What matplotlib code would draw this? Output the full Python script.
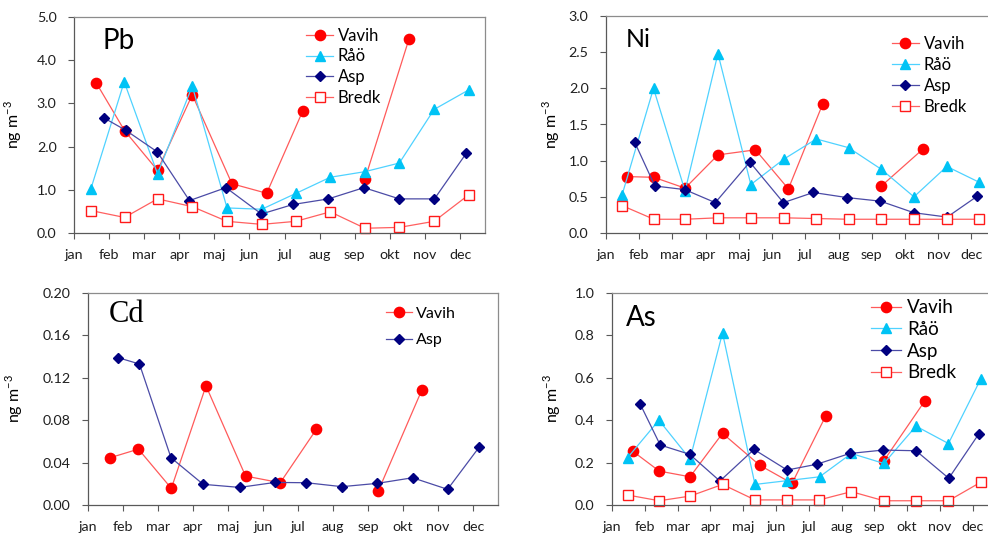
import numpy as np
import matplotlib
matplotlib.use("Agg")
import matplotlib.pyplot as plt

plt.rcParams['font.family'] = ['Lato', 'DejaVu Sans']

# month labels on the time axis (tick at the first day of every month)
months = ["jan", "feb", "mar", "apr", "maj", "jun", "jul", "aug", "sep", "okt", "nov", "dec"]

# sampling times per station, in months since 1 jan
x_vavih = [0.63, 1.44, 2.38, 3.37, 4.50, 5.49, 6.52, 7.40, 8.29, 9.54]
x_raao = [0.48, 1.43, 2.38, 3.37, 4.36, 5.35, 6.33, 7.30, 8.29, 9.27, 10.26, 11.24]
x_asp = [0.86, 1.47, 2.37, 3.29, 4.33, 5.34, 6.24, 7.25, 8.26, 9.27, 10.27, 11.18]
x_bredk = [0.48, 1.44, 2.38, 3.37, 4.36, 5.35, 6.32, 7.30, 8.29, 9.27, 10.26, 11.24]

# Pb (ng m-3)
pb_vavih = [3.48, 2.37, 1.45, 3.20, 1.14, 0.92, 2.83, np.nan, 1.25, 4.48]
pb_raao = [1.02, 3.50, 1.37, 3.40, 0.58, 0.55, 0.92, 1.29, 1.42, 1.62, 2.86, 3.31]
pb_asp = [2.66, 2.38, 1.88, 0.75, 1.05, 0.44, 0.66, 0.79, 1.05, 0.79, 0.79, 1.85]
pb_bredk = [0.52, 0.36, 0.79, 0.61, 0.27, 0.20, 0.27, 0.49, 0.11, 0.13, 0.27, 0.88]

# Ni (ng m-3)
ni_vavih = [0.78, 0.77, 0.62, 1.08, 1.15, 0.61, 1.78, np.nan, 0.65, 1.16]
ni_raao = [0.52, 2.00, 0.58, 2.48, 0.67, 1.02, 1.30, 1.18, 0.88, 0.50, 0.92, 0.70]
ni_asp = [1.26, 0.65, 0.60, 0.42, 0.98, 0.42, 0.56, 0.49, 0.44, 0.28, 0.22, 0.51]
ni_bredk = [0.38, 0.19, 0.19, 0.21, 0.21, 0.21, 0.20, 0.19, 0.19, 0.19, 0.19, 0.19]

# Cd (ng m-3), only two stations
cd_vavih = [0.0446, 0.0527, 0.0157, 0.1124, 0.0273, 0.0210, 0.0713, np.nan, 0.0132, 0.1089]
cd_asp = [0.139, 0.133, 0.0446, 0.0195, 0.0166, 0.0213, 0.0210, 0.0173, 0.0204, 0.0257, 0.0148, 0.0549]

# As (ng m-3)
as_vavih = [0.254, 0.160, 0.133, 0.338, 0.188, 0.102, 0.421, np.nan, 0.209, 0.491]
as_raao = [0.224, 0.400, 0.217, 0.812, 0.097, 0.115, 0.133, 0.243, 0.196, 0.372, 0.290, 0.593]
as_asp = [0.476, 0.283, 0.239, 0.113, 0.262, 0.165, 0.192, 0.243, 0.259, 0.256, 0.126, 0.334]
as_bredk = [0.047, 0.020, 0.042, 0.097, 0.024, 0.024, 0.024, 0.063, 0.020, 0.020, 0.020, 0.107]

W, H = 988, 537


def make_axes(fig, left, top, right, bottom):
    """ Axes placed by pixel box of the reference picture """
    return fig.add_axes([left / W, 1 - bottom / H, (right - left) / W, (bottom - top) / H])


def draw_panel(ax, series, ymax, ystep, yfmt, name, name_font, name_size,
               name_pos, leg_anchor, leg_size, leg_spacing, ylab_x):
    """ Draw one element panel with its stations, legend and axes style """
    styles = {
        "Vavih": dict(color="#ff5a5a", marker="o", ms=7.4, mfc="#ff0000", mec="#ff0000"),
        "Råö": dict(color="#4fd2ff", marker="^", ms=7.0, mfc="#00c3f5", mec="#00c3f5"),
        "Asp": dict(color="#4b4ba6", marker="D", ms=4.6, mfc="#000080", mec="#000080"),
        "Bredk": dict(color="#ff6060", marker="s", ms=7.0, mfc="white", mec="#ff1a1a"),
    }
    for label, xs, ys in series:
        st = styles[label]
        ax.plot(xs, ys, color=st["color"], lw=0.9, marker=st["marker"], ms=st["ms"],
                mfc=st["mfc"], mec=st["mec"], mew=1.0, label=label, clip_on=False)

    ax.set_xlim(0, 11.71)
    ax.set_ylim(0, ymax)
    ax.set_xticks(range(12))
    ax.set_xticklabels(months)
    yt = np.arange(0, ymax + ystep / 2, ystep)
    ax.set_yticks(yt)
    ax.set_yticklabels([yfmt.format(v) for v in yt])
    ax.tick_params(axis="both", direction="out", length=4.5, width=0.8,
                   color="#595959", labelsize=10.3, labelcolor="#202020")
    ax.tick_params(axis="y", pad=8)
    ax.tick_params(axis="x", pad=7)
    for side in ["left", "bottom"]:
        ax.spines[side].set_color("#595959")
        ax.spines[side].set_linewidth(0.9)
    for side in ["top", "right"]:
        ax.spines[side].set_color("#8c8c8c")
        ax.spines[side].set_linewidth(0.9)

    ax.set_ylabel("ng m$^{\\mathregular{-3}}$", fontsize=11.5)
    ax.yaxis.set_label_coords(ylab_x, 0.5)

    # element name in the upper left corner
    ax.text(name_pos[0], name_pos[1], name, transform=ax.transAxes, fontsize=name_size,
            family=name_font, va="center", ha="left")

    ax.legend(loc="upper left", bbox_to_anchor=leg_anchor, frameon=False,
              fontsize=leg_size, handlelength=1.6, handletextpad=0.3,
              labelspacing=leg_spacing, borderpad=0, borderaxespad=0)


fig = plt.figure(figsize=(W / 100, H / 100), dpi=100)

ax_pb = make_axes(fig, 74, 17, 485, 233)
draw_panel(ax_pb, [("Vavih", x_vavih, pb_vavih), ("Råö", x_raao, pb_raao),
                   ("Asp", x_asp, pb_asp), ("Bredk", x_bredk, pb_bredk)],
           5.0, 1.0, "{:.1f}", "Pb", ["Lato"], 20, (0.07, 0.89),
           (0.565, 0.95), 12, 0.28, -0.122)

ax_ni = make_axes(fig, 606, 16, 995, 233)
draw_panel(ax_ni, [("Vavih", x_vavih, ni_vavih), ("Råö", x_raao, ni_raao),
                   ("Asp", x_asp, ni_asp), ("Bredk", x_bredk, ni_bredk)],
           3.0, 0.5, "{:.1f}", "Ni", ["Lato"], 18, (0.05, 0.89),
           (0.735, 0.91), 12, 0.3, -0.113)

ax_cd = make_axes(fig, 88, 293, 498, 505)
draw_panel(ax_cd, [("Vavih", x_vavih, cd_vavih), ("Asp", x_asp, cd_asp)],
           0.20, 0.04, "{:.2f}", "Cd", ["Liberation Serif"], 22, (0.05, 0.9),
           (0.727, 0.935), 11.5, 0.75, -0.154)

ax_as = make_axes(fig, 612, 293, 996, 505)
draw_panel(ax_as, [("Vavih", x_vavih, as_vavih), ("Råö", x_raao, as_raao),
                   ("Asp", x_asp, as_asp), ("Bredk", x_bredk, as_bredk)],
           1.0, 0.2, "{:.1f}", "As", ["Lato"], 20, (0.035, 0.88),
           (0.675, 0.97), 13.5, 0.25, -0.128)

plt.savefig("out.png", dpi=100)
